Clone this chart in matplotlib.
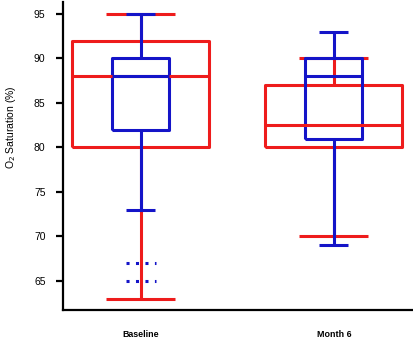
"""Box plots of O2 saturation at baseline and month 6, two overlaid groups."""

import matplotlib.pyplot as plt

plt.rcParams["font.family"] = ["Liberation Sans", "DejaVu Sans"]

# Data
timepoints = ["Baseline", "Month 6"]

red_q1 = [80, 80]
red_med = [88, 82.5]
red_q3 = [92, 87]
red_low = [63, 70]
red_high = [95, 90]

blue_q1 = [82, 81]
blue_med = [88, 88]
blue_q3 = [90, 90]
blue_low = [73, 69]
blue_high = [95, 93]
blue_outliers = [[67, 65], []]

RED = "#ee1c1c"
BLUE = "#1414c8"


def stats(q1, med, q3, low, high):
    return [
        dict(q1=a, med=b, q3=c, whislo=d, whishi=e, fliers=[])
        for a, b, c, d, e in zip(q1, med, q3, low, high)
    ]


def draw(ax, st, color, width, capwidth):
    props = dict(color=color, linewidth=2.2, solid_capstyle="butt")
    ax.bxp(
        st,
        positions=[1, 2],
        widths=width,
        capwidths=capwidth,
        showfliers=False,
        boxprops=props,
        whiskerprops=props,
        capprops=props,
        medianprops=props,
        manage_ticks=False,
    )


fig = plt.figure(figsize=(4.14, 3.40), dpi=100)
ax = fig.add_axes([0.152, 0.088, 0.848, 0.906])

draw(ax, stats(red_q1, red_med, red_q3, red_low, red_high), RED, 0.71, 0.357)
draw(ax, stats(blue_q1, blue_med, blue_q3, blue_low, blue_high), BLUE, 0.295, 0.15)

for pos, vals in zip([1, 2], blue_outliers):
    if vals:
        ax.hlines(vals, pos - 0.078, pos + 0.078, colors=BLUE, linewidth=2.2,
                  linestyles=(0, (1, 2.1)))

ax.set_xlim(0.596, 2.415)
ax.set_ylim(61.7, 96.35)
ax.set_yticks([65, 70, 75, 80, 85, 90, 95])
ax.set_xticks([1, 2])
ax.set_xticklabels(timepoints, fontweight="bold")

for side in ("top", "right"):
    ax.spines[side].set_visible(False)
for side in ("left", "bottom"):
    ax.spines[side].set_linewidth(1.6)

ax.tick_params(axis="y", direction="out", length=5, width=1.6, pad=7.5, labelsize=7.5)
ax.tick_params(axis="x", length=0, pad=14, labelsize=6.4)
ax.set_ylabel("O$_2$ Saturation (%)", fontsize=7.5)
ax.yaxis.set_label_coords(-0.128, 0.594)

fig.savefig("out.png", dpi=100)
